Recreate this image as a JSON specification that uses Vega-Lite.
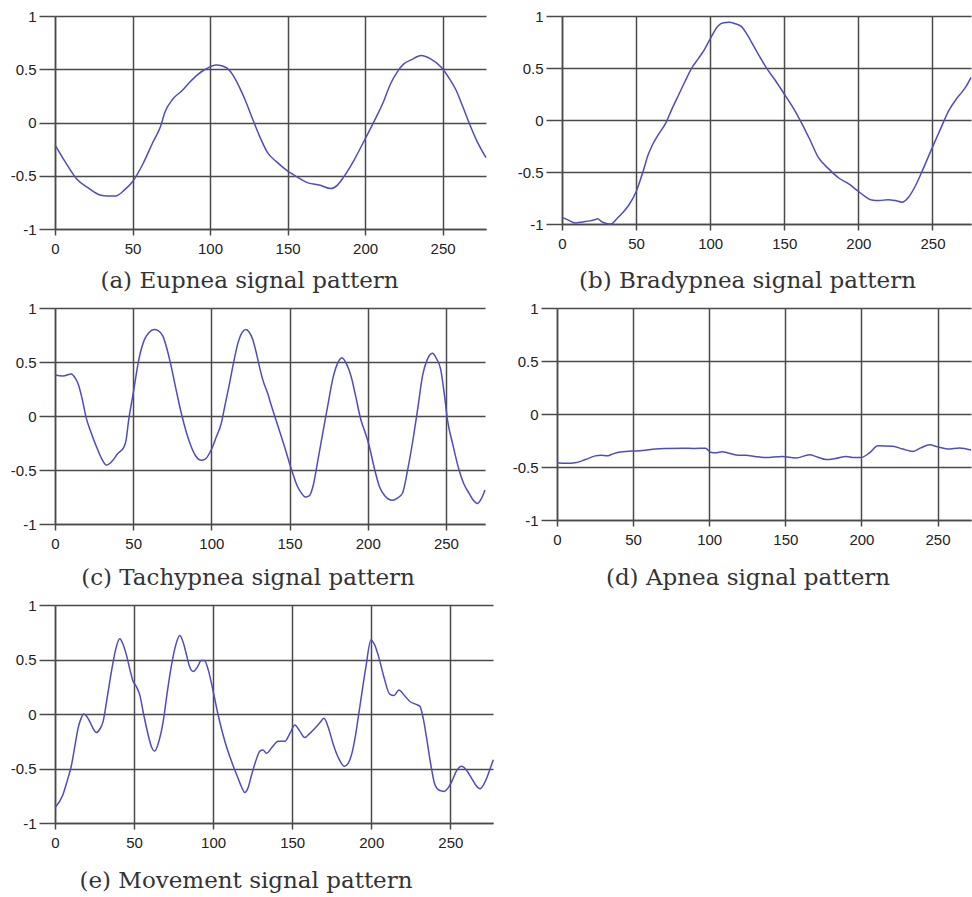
{
  "$schema": "https://vega.github.io/schema/vega-lite/v6.json",
  "padding": {"top": 9, "left": 10, "right": 0, "bottom": 0},
  "config": {
    "view": {"stroke": null},
    "axis": {"grid": true, "gridColor": "#4a4a4a", "gridWidth": 1.5, "gridOpacity": 1, "domainColor": "#4a4a4a", "domainWidth": 1.5, "tickColor": "#4a4a4a", "tickWidth": 1.5, "labelFont": "Liberation Sans", "labelFontSize": 15, "labelColor": "#222"},
    "axisX": {"tickSize": 6, "labelPadding": 6, "labelFlush": false, "labelOverlap": false},
    "axisY": {"tickSize": 16, "labelPadding": 3, "labelOverlap": false},
    "title": {"font": "DejaVu Serif", "fontSize": 23, "fontWeight": "normal", "color": "#333", "orient": "bottom", "offset": 14, "anchor": "middle"},
    "line": {"color": "#4d4dbd", "strokeWidth": 1.5, "interpolate": "monotone"}
  },
  "columns": 1,
  "align": "none",
  "spacing": {"row": 8, "column": 0},
  "concat": [
    {
      "hconcat": [
        {
          "width": 431, "height": 213,
          "title": {"text": "(a) Eupnea signal pattern", "offset": 14, "dx": -21},
          "data": {"values": [
            {"t":0,"v":-0.21},{"t":7,"v":-0.38},{"t":14,"v":-0.53},{"t":21,"v":-0.61},{"t":29,"v":-0.68},{"t":34,"v":-0.69},{"t":39,"v":-0.69},{"t":45,"v":-0.63},{"t":50,"v":-0.556},{"t":57,"v":-0.38},{"t":63,"v":-0.19},{"t":68,"v":-0.04},{"t":71,"v":0.1},{"t":76,"v":0.22},{"t":82,"v":0.3},{"t":87,"v":0.38},{"t":92,"v":0.45},{"t":97,"v":0.5},{"t":104,"v":0.54},{"t":108,"v":0.53},{"t":111,"v":0.51},{"t":115,"v":0.44},{"t":119,"v":0.33},{"t":123,"v":0.2},{"t":127,"v":0.05},{"t":132,"v":-0.13},{"t":137,"v":-0.28},{"t":143,"v":-0.37},{"t":149.5,"v":-0.45},{"t":156,"v":-0.51},{"t":162,"v":-0.56},{"t":171,"v":-0.59},{"t":178,"v":-0.62},{"t":182,"v":-0.59},{"t":186,"v":-0.515},{"t":193,"v":-0.35},{"t":200,"v":-0.155},{"t":207.5,"v":0.06},{"t":212,"v":0.2},{"t":216,"v":0.35},{"t":221,"v":0.48},{"t":225,"v":0.55},{"t":230,"v":0.59},{"t":236,"v":0.63},{"t":242,"v":0.6},{"t":249,"v":0.52},{"t":254,"v":0.42},{"t":258.5,"v":0.31},{"t":263,"v":0.15},{"t":267,"v":0.0},{"t":272,"v":-0.17},{"t":278,"v":-0.33}
          ]},
          "mark": "line",
          "encoding": {
            "x": {"field": "t", "type": "quantitative", "scale": {"domain": [0, 278], "nice": false}, "axis": {"title": null, "values": [0,50,100,150,200,250]}},
            "y": {"field": "v", "type": "quantitative", "scale": {"domain": [-1, 1], "nice": false}, "axis": {"title": null, "values": [-1,-0.5,0,0.5,1], "labelExpr": "'' + datum.value"}}
          }
        },
        {
          "width": 409, "height": 208,
          "title": {"text": "(b) Bradypnea signal pattern", "offset": 19, "dx": -19},
          "data": {"values": [
            {"t":0,"v":-0.935},{"t":4,"v":-0.96},{"t":9,"v":-0.99},{"t":14,"v":-0.98},{"t":19,"v":-0.97},{"t":22,"v":-0.96},{"t":24,"v":-0.95},{"t":27,"v":-0.98},{"t":30,"v":-0.995},{"t":33,"v":-1.0},{"t":37,"v":-0.95},{"t":41,"v":-0.89},{"t":45,"v":-0.82},{"t":50,"v":-0.69},{"t":55,"v":-0.48},{"t":58,"v":-0.34},{"t":61,"v":-0.24},{"t":65,"v":-0.14},{"t":70,"v":-0.03},{"t":74,"v":0.1},{"t":79,"v":0.25},{"t":83,"v":0.37},{"t":88,"v":0.51},{"t":92,"v":0.59},{"t":96,"v":0.675},{"t":100,"v":0.78},{"t":105,"v":0.9},{"t":109,"v":0.935},{"t":113,"v":0.94},{"t":117,"v":0.925},{"t":121,"v":0.9},{"t":125,"v":0.82},{"t":129,"v":0.72},{"t":133,"v":0.62},{"t":137.5,"v":0.51},{"t":144,"v":0.38},{"t":150,"v":0.25},{"t":155,"v":0.14},{"t":161,"v":-0.01},{"t":167,"v":-0.18},{"t":173,"v":-0.36},{"t":180,"v":-0.47},{"t":187,"v":-0.56},{"t":193,"v":-0.61},{"t":199,"v":-0.675},{"t":204,"v":-0.73},{"t":209,"v":-0.77},{"t":214,"v":-0.775},{"t":220,"v":-0.766},{"t":225,"v":-0.775},{"t":229.5,"v":-0.79},{"t":234,"v":-0.74},{"t":238.6,"v":-0.63},{"t":244,"v":-0.46},{"t":249.7,"v":-0.27},{"t":255,"v":-0.1},{"t":261,"v":0.09},{"t":266,"v":0.2},{"t":270,"v":0.27},{"t":273,"v":0.33},{"t":276,"v":0.41}
          ]},
          "mark": "line",
          "encoding": {
            "x": {"field": "t", "type": "quantitative", "scale": {"domain": [0, 276], "nice": false}, "axis": {"title": null, "values": [0,50,100,150,200,250]}},
            "y": {"field": "v", "type": "quantitative", "scale": {"domain": [-1, 1], "nice": false}, "axis": {"title": null, "values": [-1,-0.5,0,0.5,1], "labelExpr": "'' + datum.value"}}
          }
        }
      ],
      "spacing": 28
    },
    {
      "hconcat": [
        {
          "width": 430, "height": 216,
          "title": {"text": "(c) Tachypnea signal pattern", "offset": 16, "dx": -22},
          "data": {"values": [
            {"t":0,"v":0.38},{"t":5,"v":0.37},{"t":10.5,"v":0.39},{"t":13,"v":0.35},{"t":15,"v":0.29},{"t":17.5,"v":0.15},{"t":20,"v":-0.02},{"t":23,"v":-0.15},{"t":26.4,"v":-0.28},{"t":30,"v":-0.4},{"t":33,"v":-0.455},{"t":35,"v":-0.44},{"t":37,"v":-0.41},{"t":40,"v":-0.35},{"t":44,"v":-0.29},{"t":45.5,"v":-0.22},{"t":47,"v":-0.05},{"t":50,"v":0.21},{"t":54,"v":0.55},{"t":57,"v":0.7},{"t":60,"v":0.77},{"t":63.5,"v":0.8},{"t":66,"v":0.79},{"t":69,"v":0.74},{"t":72,"v":0.6},{"t":74.3,"v":0.46},{"t":77.5,"v":0.24},{"t":80.7,"v":0.03},{"t":84,"v":-0.15},{"t":87,"v":-0.28},{"t":90,"v":-0.37},{"t":93.5,"v":-0.41},{"t":96,"v":-0.4},{"t":100,"v":-0.31},{"t":103,"v":-0.2},{"t":106.3,"v":-0.07},{"t":109,"v":0.12},{"t":111.6,"v":0.3},{"t":114,"v":0.48},{"t":117,"v":0.675},{"t":119.5,"v":0.77},{"t":122,"v":0.8},{"t":124,"v":0.78},{"t":126.4,"v":0.71},{"t":128.5,"v":0.6},{"t":130.7,"v":0.46},{"t":133,"v":0.33},{"t":136,"v":0.21},{"t":138.5,"v":0.09},{"t":141.4,"v":-0.04},{"t":146.7,"v":-0.28},{"t":152,"v":-0.53},{"t":155,"v":-0.65},{"t":157.4,"v":-0.71},{"t":160,"v":-0.75},{"t":162.5,"v":-0.74},{"t":165,"v":-0.65},{"t":168,"v":-0.42},{"t":171.2,"v":-0.16},{"t":174.5,"v":0.1},{"t":177.5,"v":0.335},{"t":180.5,"v":0.48},{"t":183.5,"v":0.54},{"t":186.5,"v":0.48},{"t":189.3,"v":0.37},{"t":192.5,"v":0.17},{"t":195.6,"v":-0.035},{"t":198.3,"v":-0.15},{"t":201,"v":-0.28},{"t":204,"v":-0.47},{"t":207.4,"v":-0.65},{"t":211,"v":-0.74},{"t":215.9,"v":-0.78},{"t":219,"v":-0.76},{"t":222.2,"v":-0.715},{"t":225.5,"v":-0.5},{"t":228.6,"v":-0.25},{"t":232,"v":0.07},{"t":235,"v":0.37},{"t":238,"v":0.52},{"t":241.4,"v":0.58},{"t":244,"v":0.53},{"t":246.7,"v":0.43},{"t":249,"v":0.2},{"t":251,"v":-0.035},{"t":254.5,"v":-0.27},{"t":258.4,"v":-0.5},{"t":261.5,"v":-0.63},{"t":264.8,"v":-0.715},{"t":267.5,"v":-0.78},{"t":270,"v":-0.81},{"t":272.5,"v":-0.77},{"t":275,"v":-0.685}
          ]},
          "mark": "line",
          "encoding": {
            "x": {"field": "t", "type": "quantitative", "scale": {"domain": [0, 275], "nice": false}, "axis": {"title": null, "values": [0,50,100,150,200,250]}},
            "y": {"field": "v", "type": "quantitative", "scale": {"domain": [-1, 1], "nice": false}, "axis": {"title": null, "values": [-1,-0.5,0,0.5,1], "labelExpr": "'' + datum.value"}}
          }
        },
        {
          "width": 414, "height": 212,
          "title": {"text": "(d) Apnea signal pattern", "offset": 20, "dx": -16},
          "data": {"values": [
            {"t":0,"v":-0.46},{"t":6,"v":-0.465},{"t":12,"v":-0.46},{"t":18.6,"v":-0.43},{"t":25.2,"v":-0.395},{"t":29,"v":-0.39},{"t":32.9,"v":-0.395},{"t":36,"v":-0.38},{"t":40.6,"v":-0.36},{"t":49.3,"v":-0.35},{"t":56,"v":-0.345},{"t":64.7,"v":-0.33},{"t":72,"v":-0.325},{"t":82.2,"v":-0.322},{"t":90,"v":-0.325},{"t":97.6,"v":-0.322},{"t":100.9,"v":-0.36},{"t":104,"v":-0.365},{"t":108.6,"v":-0.355},{"t":113,"v":-0.37},{"t":119.5,"v":-0.39},{"t":124,"v":-0.39},{"t":130,"v":-0.4},{"t":137,"v":-0.41},{"t":148,"v":-0.4},{"t":157,"v":-0.415},{"t":165.9,"v":-0.385},{"t":171,"v":-0.405},{"t":176.8,"v":-0.43},{"t":183,"v":-0.42},{"t":190,"v":-0.4},{"t":195,"v":-0.41},{"t":199.9,"v":-0.41},{"t":205,"v":-0.37},{"t":210.9,"v":-0.3},{"t":220.7,"v":-0.305},{"t":227,"v":-0.33},{"t":233.9,"v":-0.353},{"t":239,"v":-0.32},{"t":244.8,"v":-0.29},{"t":250,"v":-0.31},{"t":256.8,"v":-0.33},{"t":264.5,"v":-0.32},{"t":272,"v":-0.34}
          ]},
          "mark": "line",
          "encoding": {
            "x": {"field": "t", "type": "quantitative", "scale": {"domain": [0, 272], "nice": false}, "axis": {"title": null, "values": [0,50,100,150,200,250]}},
            "y": {"field": "v", "type": "quantitative", "scale": {"domain": [-1, 1], "nice": false}, "axis": {"title": null, "values": [-1,-0.5,0,0.5,1], "labelExpr": "'' + datum.value"}}
          }
        }
      ],
      "spacing": 24
    },
    {
      "width": 438, "height": 218,
      "title": {"text": "(e) Movement signal pattern", "offset": 20, "dx": -28},
      "data": {"values": [
        {"t":0,"v":-0.86},{"t":5,"v":-0.74},{"t":8,"v":-0.6},{"t":10.4,"v":-0.47},{"t":12.5,"v":-0.3},{"t":14.6,"v":-0.13},{"t":16.5,"v":-0.04},{"t":18.2,"v":0.0},{"t":20,"v":-0.02},{"t":22,"v":-0.07},{"t":24,"v":-0.13},{"t":26.2,"v":-0.17},{"t":28.3,"v":-0.14},{"t":30.4,"v":-0.07},{"t":33,"v":0.15},{"t":35.7,"v":0.39},{"t":38.5,"v":0.6},{"t":40.9,"v":0.69},{"t":43,"v":0.64},{"t":45.2,"v":0.54},{"t":47.5,"v":0.4},{"t":49.4,"v":0.3},{"t":51.5,"v":0.25},{"t":53.6,"v":0.175},{"t":56,"v":0.0},{"t":58.9,"v":-0.19},{"t":61,"v":-0.3},{"t":63.1,"v":-0.34},{"t":65.5,"v":-0.26},{"t":68.4,"v":-0.07},{"t":71,"v":0.2},{"t":73.7,"v":0.45},{"t":76.5,"v":0.64},{"t":78.9,"v":0.72},{"t":81,"v":0.66},{"t":83.2,"v":0.54},{"t":85,"v":0.44},{"t":87.4,"v":0.39},{"t":90,"v":0.43},{"t":92.5,"v":0.49},{"t":94.5,"v":0.49},{"t":97,"v":0.4},{"t":100,"v":0.21},{"t":103.5,"v":-0.03},{"t":107.4,"v":-0.25},{"t":111.5,"v":-0.43},{"t":115.8,"v":-0.59},{"t":118,"v":-0.67},{"t":120,"v":-0.72},{"t":122,"v":-0.68},{"t":124.3,"v":-0.56},{"t":127,"v":-0.43},{"t":129.6,"v":-0.34},{"t":131.5,"v":-0.33},{"t":133.8,"v":-0.36},{"t":137,"v":-0.31},{"t":141.2,"v":-0.25},{"t":145.4,"v":-0.25},{"t":148.5,"v":-0.18},{"t":151.7,"v":-0.1},{"t":154.5,"v":-0.15},{"t":158,"v":-0.215},{"t":161,"v":-0.18},{"t":164.4,"v":-0.13},{"t":167.5,"v":-0.08},{"t":170.1,"v":-0.04},{"t":173,"v":-0.13},{"t":176,"v":-0.28},{"t":179.5,"v":-0.41},{"t":183,"v":-0.48},{"t":185.5,"v":-0.45},{"t":187.6,"v":-0.37},{"t":190,"v":-0.2},{"t":192.9,"v":0.08},{"t":196.5,"v":0.42},{"t":199.8,"v":0.68},{"t":202,"v":0.64},{"t":204.4,"v":0.54},{"t":208,"v":0.34},{"t":211.8,"v":0.18},{"t":214.5,"v":0.17},{"t":217.5,"v":0.22},{"t":221,"v":0.17},{"t":224.5,"v":0.115},{"t":228,"v":0.09},{"t":230.8,"v":0.07},{"t":233,"v":-0.05},{"t":235,"v":-0.22},{"t":237.5,"v":-0.45},{"t":240.3,"v":-0.65},{"t":243,"v":-0.7},{"t":246.2,"v":-0.71},{"t":248.5,"v":-0.68},{"t":250.9,"v":-0.62},{"t":254,"v":-0.52},{"t":257.2,"v":-0.48},{"t":260.5,"v":-0.52},{"t":263.5,"v":-0.59},{"t":266,"v":-0.65},{"t":268.8,"v":-0.685},{"t":271,"v":-0.65},{"t":273,"v":-0.59},{"t":275,"v":-0.51},{"t":277.2,"v":-0.42}
      ]},
      "mark": "line",
      "encoding": {
        "x": {"field": "t", "type": "quantitative", "scale": {"domain": [0, 277], "nice": false}, "axis": {"title": null, "values": [0,50,100,150,200,250]}},
        "y": {"field": "v", "type": "quantitative", "scale": {"domain": [-1, 1], "nice": false}, "axis": {"title": null, "values": [-1,-0.5,0,0.5,1], "labelExpr": "'' + datum.value"}}
      }
    }
  ]
}
